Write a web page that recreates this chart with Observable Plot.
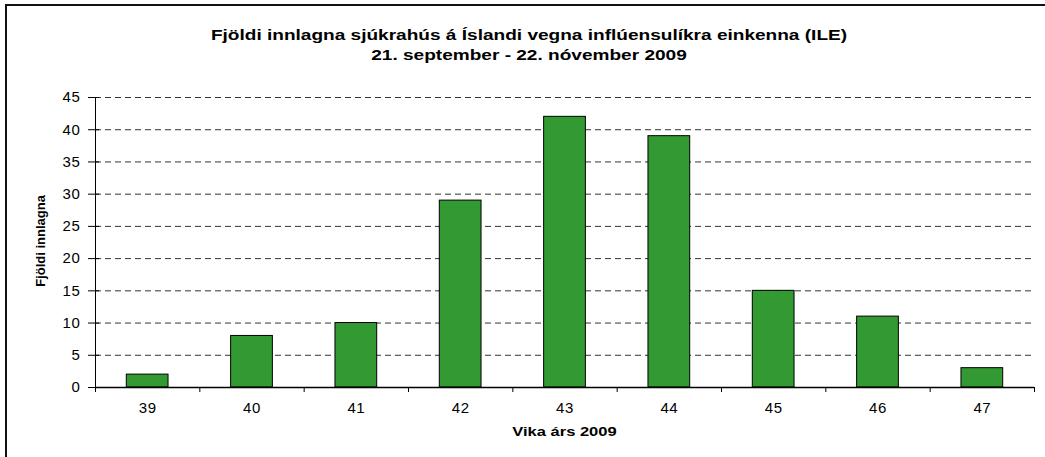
<!DOCTYPE html>
<html>
<head>
<meta charset="utf-8">
<script src="https://cdn.jsdelivr.net/npm/d3@7"></script>
<script src="https://cdn.jsdelivr.net/npm/@observablehq/plot@0.6"></script>
<style>
  html, body { margin: 0; padding: 0; background: #fff; overflow: hidden; }
  #wrap { position: relative; width: 1045px; height: 457px; font-family: "Liberation Sans", Arial, sans-serif; }
  #border { position: absolute; left: 5px; top: 4px; width: 1100px; height: 500px; border: 2px solid #111; box-sizing: border-box; }
  .t { position: absolute; left: 0; width: 1058px; text-align: center; font-weight: bold; font-size: 15px; color: #000; white-space: nowrap; transform: scaleX(1.27); transform-origin: 529px 0; }
  #xlab { position: absolute; left: 95px; width: 939px; top: 424px; text-align: center; font-weight: bold; font-size: 13px; transform: scaleX(1.27); transform-origin: 469.5px 0; }
  #ylab { position: absolute; left: 40px; top: 241px; transform: translate(-50%, -50%) rotate(-90deg); font-weight: bold; font-size: 13px; white-space: nowrap; }
  #chart { position: absolute; left: 0; top: 0; }
  #chart svg text { letter-spacing: 0.6px; }
</style>
</head>
<body>
<div id="wrap">
  <div id="chart"></div>
  <div id="border"></div>
  <div class="t" id="t1" style="top:26px">Fjöldi innlagna sjúkrahús á Íslandi vegna inflúensulíkra einkenna (ILE)</div>
  <div class="t" id="t2" style="top:46px">21. september - 22. nóvember 2009</div>
  <div id="xlab">Vika árs 2009</div>
  <div id="ylab">Fjöldi innlagna</div>
</div>
<script>
const weeks = [39, 40, 41, 42, 43, 44, 45, 46, 47];
const counts = [2, 8, 10, 29, 42, 39, 15, 11, 3];
const yTicks = [0, 5, 10, 15, 20, 25, 30, 35, 40, 45];

const data = weeks.map((w, i) => ({week: w, value: counts[i]}));
const bounds = weeks.map(w => w - 0.5).concat([weeks[weeks.length - 1] + 0.5]);

const plot = Plot.plot({
  width: 1045,
  height: 457,
  marginLeft: 95,
  marginRight: 11,
  marginTop: 97,
  marginBottom: 70,
  style: {fontFamily: "Liberation Sans, Arial, sans-serif", fontSize: "15px", color: "#000", background: "transparent"},
  x: {domain: [bounds[0], bounds[bounds.length - 1]], label: null},
  y: {domain: [0, 45], label: null},
  marks: [
    Plot.gridY(yTicks.filter(d => d > 0), {stroke: "#333", strokeOpacity: 1, strokeDasharray: "6,4"}),
    Plot.rectY(data, {x1: d => d.week - 0.2, x2: d => d.week + 0.2, y: "value", fill: "#339933", stroke: "#000", strokeWidth: 1}),
    Plot.ruleY([0], {stroke: "#000", strokeWidth: 1.3}),
    Plot.ruleX([bounds[0]], {y1: 0, y2: 45, stroke: "#000", strokeWidth: 1}),
    Plot.axisY({ticks: yTicks, tickSize: 7, tickPadding: 8, fontSize: 15, label: null, stroke: "#000"}),
    Plot.axisY({ticks: yTicks, tickSize: 4, dx: 4, tickFormat: () => "", label: null, stroke: "#000"}),
    Plot.axisX({ticks: bounds, tickSize: 5, tickFormat: () => "", label: null, stroke: "#000"}),
    Plot.axisX({ticks: weeks, tickSize: 0, tickPadding: 15, fontSize: 15, label: null})
  ]
});
document.getElementById("chart").appendChild(plot);
</script>
</body>
</html>
